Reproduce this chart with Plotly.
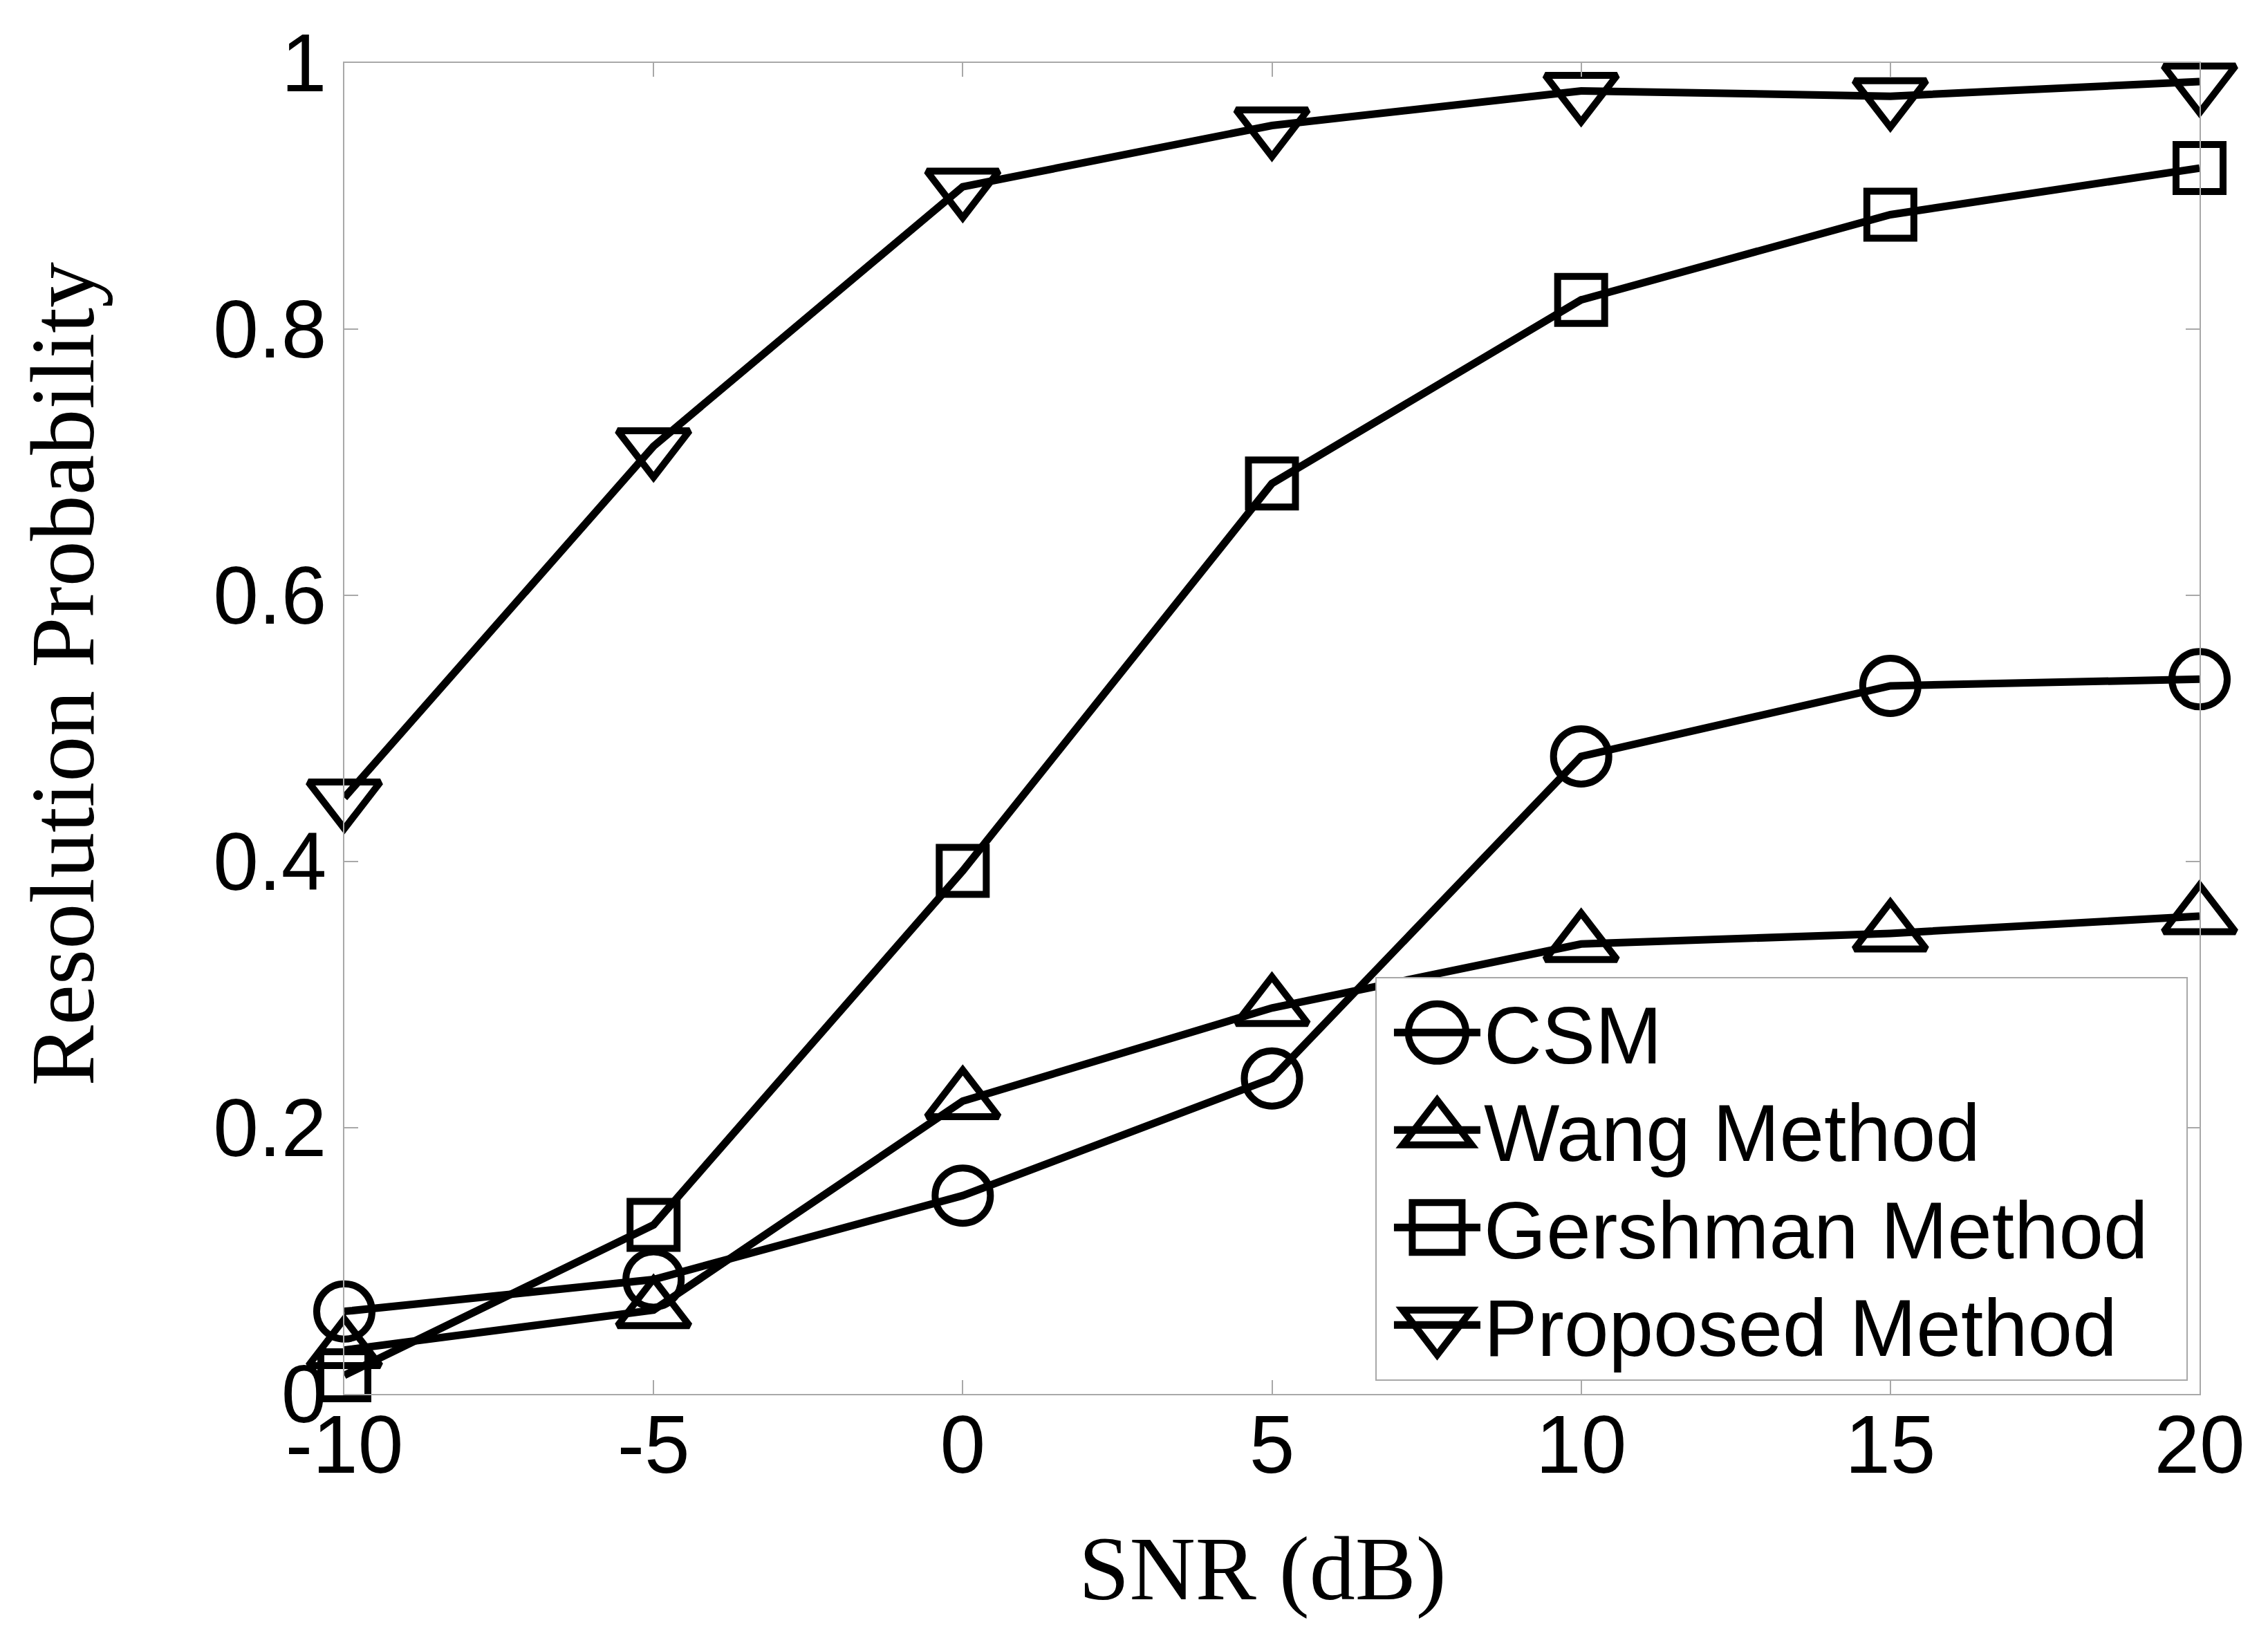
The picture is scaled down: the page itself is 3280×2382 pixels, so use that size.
import plotly.graph_objects as go

snr = [-10, -5, 0, 5, 10, 15, 20]
csm = [0.062, 0.086, 0.149, 0.237, 0.479, 0.532, 0.537]
wang = [0.033, 0.063, 0.220, 0.290, 0.338, 0.346, 0.359]
gershman = [0.014, 0.127, 0.393, 0.684, 0.822, 0.886, 0.921]
proposed = [0.448, 0.712, 0.907, 0.953, 0.979, 0.975, 0.986]

names = ["CSM", "Wang Method", "Gershman Method", "Proposed Method"]
series = [csm, wang, gershman, proposed]
symbols = ["circle-open", "triangle-up-open", "square-open", "triangle-down-open"]
msizes = [80, 90, 68, 90]

x_ticks = [-10, -5, 0, 5, 10, 15, 20]
x_ticktext = ["-10", "-5", "0", "5", "10", "15", "20"]
y_ticks = [0, 0.2, 0.4, 0.6, 0.8, 1]
y_ticktext = ["0", "0.2", "0.4", "0.6", "0.8", "1"]

fig = go.Figure()
for name, vals, sym, ms in zip(names, series, symbols, msizes):
    fig.add_trace(go.Scatter(
        x=snr, y=vals, name=name, mode="lines+markers",
        line=dict(color="black", width=11),
        marker=dict(symbol=sym, size=ms, color="black",
                    line=dict(color="black", width=10)),
        cliponaxis=False,
    ))

axis_common = dict(
    showgrid=False, zeroline=False, showline=True, linecolor="#a8a8a8",
    linewidth=2, mirror="ticks", ticks="inside", ticklen=20, tickwidth=2,
    tickcolor="#a8a8a8",
    tickfont=dict(family="Liberation Sans, Arial", size=118, color="black"),
)

title_font = dict(family="Liberation Serif, Times New Roman", size=132, color="black")

fig.update_layout(
    width=3280, height=2382,
    paper_bgcolor="white", plot_bgcolor="white",
    margin=dict(l=490, r=107, t=83, b=374),
    showlegend=True,
    legend=dict(
        x=0.5557, y=0.0099, xanchor="left", yanchor="bottom",
        bgcolor="white", bordercolor="#a8a8a8", borderwidth=2,
        font=dict(family="Liberation Sans, Arial", size=116, color="black"),
        itemwidth=125, tracegroupgap=0,
    ),
    xaxis=dict(
        range=[-10, 20], tickvals=x_ticks, ticktext=x_ticktext,
        ticklabelstandoff=-30,
        **axis_common,
    ),
    yaxis=dict(
        range=[0, 1], tickvals=y_ticks, ticktext=y_ticktext,
        ticklabelstandoff=0,
        **axis_common,
    ),
    annotations=[
        dict(text="SNR (dB)", xref="paper", yref="paper", x=0.495, y=-0.131,
             xanchor="center", yanchor="middle", showarrow=False, font=title_font),
        dict(text="Resolution Probability", xref="paper", yref="paper",
             x=-0.152, y=0.541, xanchor="center", yanchor="middle",
             textangle=-90, showarrow=False, font=title_font),
    ],
)

post = r"""
var gd = document.getElementById('{plot_id}');
var leg = gd.querySelector('.legend');
if (leg) {
  var getT = function(el) {
    var t = el.getAttribute('transform') || '';
    var m = /translate\(\s*([-\d.eE]+)[\s,]+([-\d.eE]+)/.exec(t);
    return m ? [parseFloat(m[1]), parseFloat(m[2])] : [0, 0];
  };
  var scales = [5.2, 5.4, 4.5, 5.4];
  var items = leg.querySelectorAll('.traces');
  var newd = 141, topShift = 4, dx = 20, extraW = 70;
  var d = items.length > 1 ? getT(items[1])[1] - getT(items[0])[1] : newd;
  items.forEach(function(tr, i) {
    var s = scales[i] || 5.0;
    var p = getT(tr);
    tr.setAttribute('transform', 'translate(' + (p[0] + dx) + ',' + (p[1] - topShift - i * (d - newd)) + ')');
    var cx = 20;
    var line = tr.querySelector('.legendlines path');
    if (line) {
      line.style.strokeWidth = '11px';
      try { var bb = line.getBBox(); if (bb.width > 0) { cx = bb.x + bb.width / 2; } } catch (e) {}
    }
    tr.querySelectorAll('.legendpoints .scatterpts').forEach(function(pt) {
      pt.setAttribute('transform', 'translate(' + cx + ',0) scale(' + s + ')');
      pt.style.strokeWidth = (10 / s) + 'px';
    });
  });
  var delta = (items.length - 1) * (d - newd) + 2 * topShift;
  var bg = leg.querySelector('rect.bg');
  if (bg) {
    var h = parseFloat(bg.getAttribute('height'));
    var w = parseFloat(bg.getAttribute('width'));
    bg.setAttribute('height', h - delta);
    bg.setAttribute('width', w + extraW);
  }
  var lp = getT(leg);
  leg.setAttribute('transform', 'translate(' + lp[0] + ',' + (lp[1] + delta) + ')');
  var sb = leg.querySelector('.scrollbox');
  if (sb) { sb.removeAttribute('clip-path'); }
}
"""

fig.write_html("out.html", post_script=post)
